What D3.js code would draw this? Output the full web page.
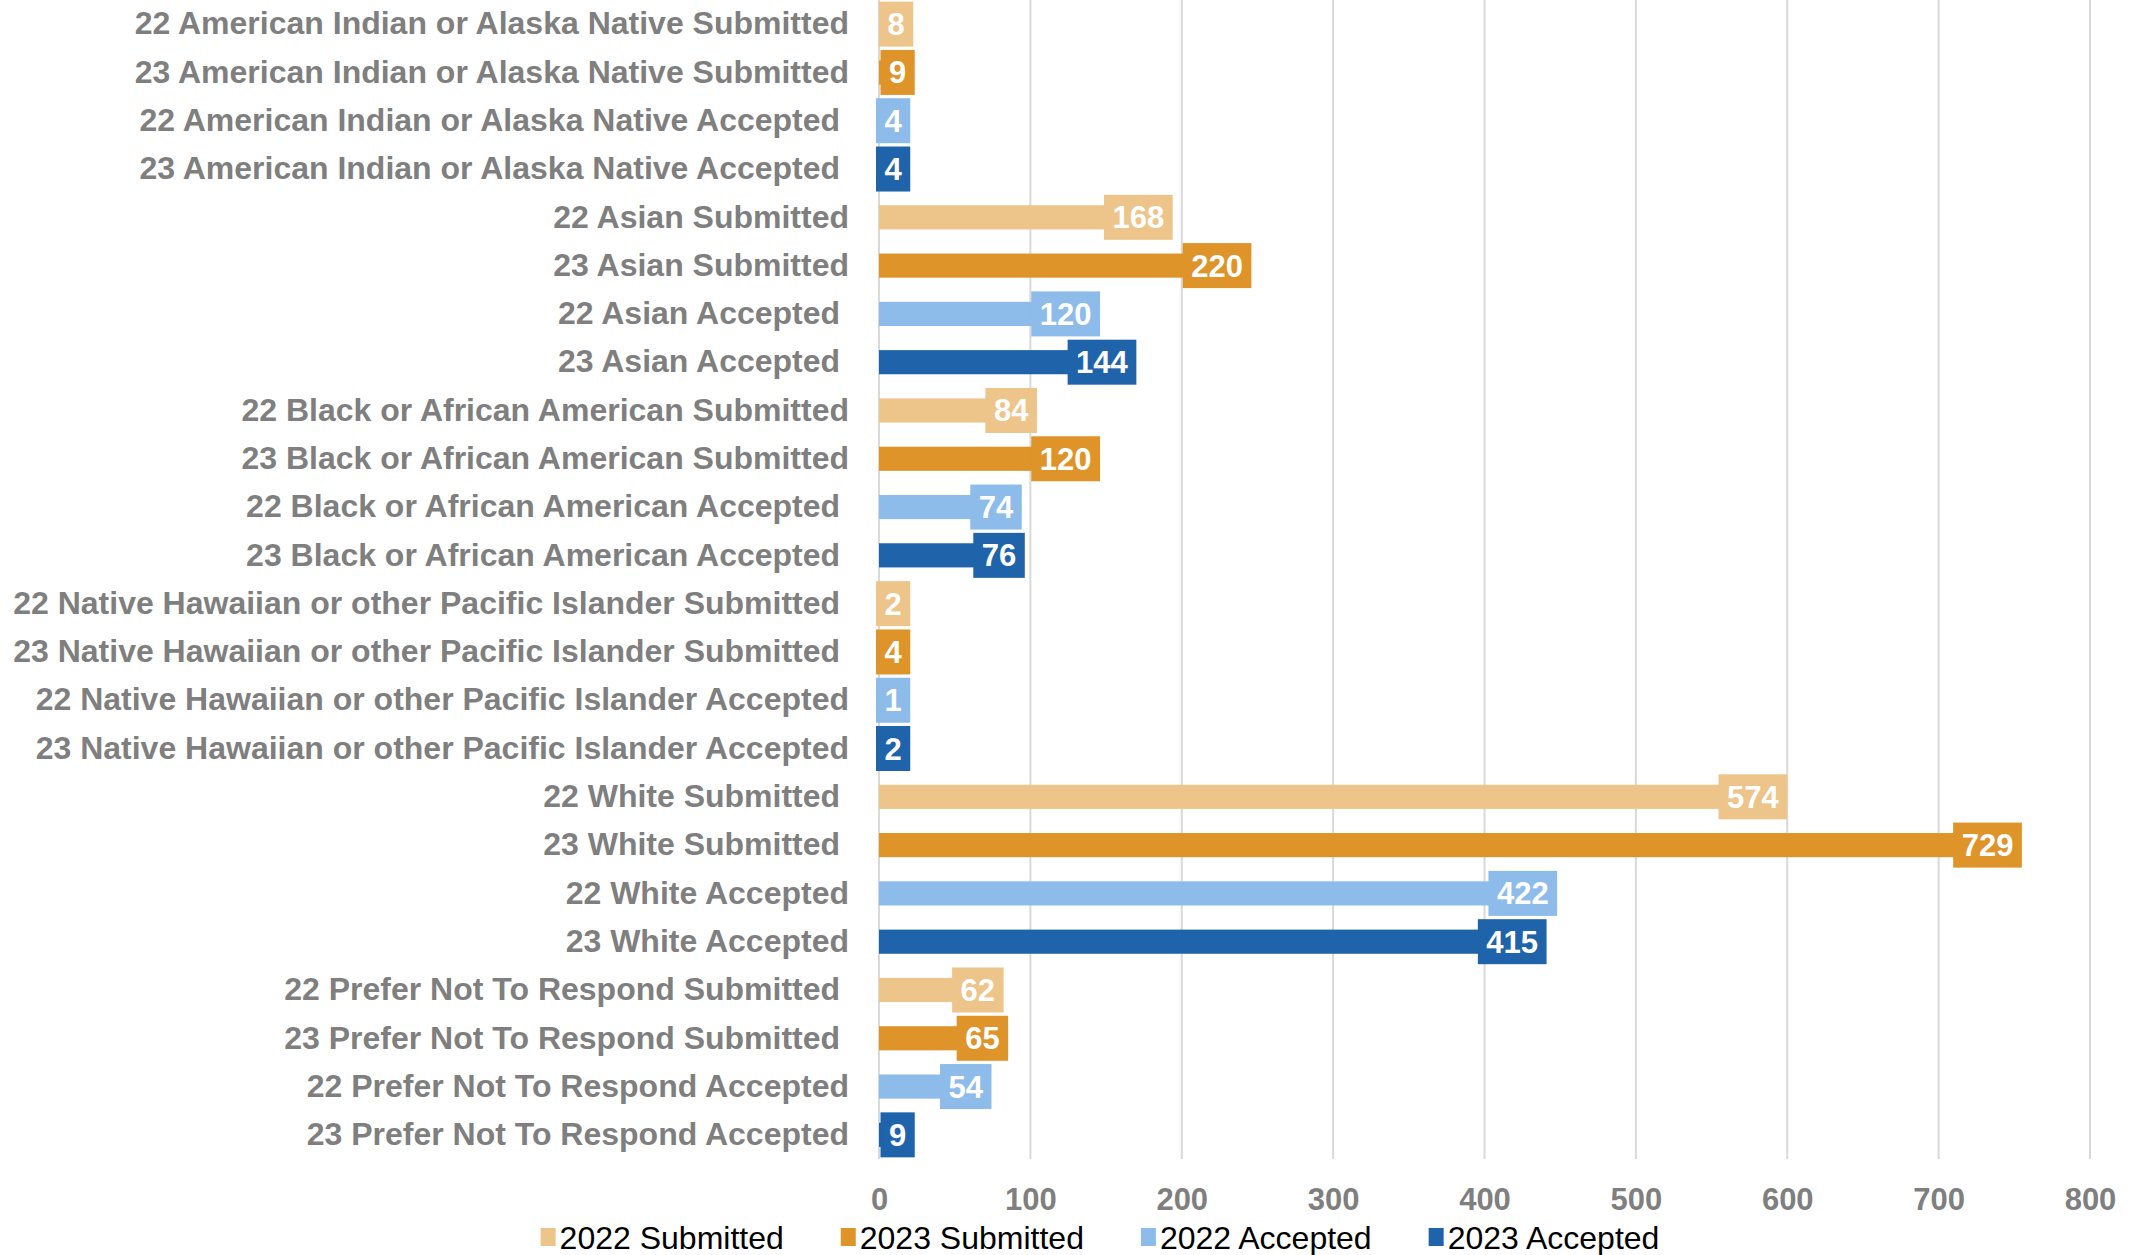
<!DOCTYPE html>
<html>
<head>
<meta charset="utf-8">
<script src="https://cdn.jsdelivr.net/npm/d3@7"></script>
<style>
  body { margin: 0; background: #fff; }
  svg { display: block; font-family: "Liberation Sans", Arial, sans-serif; }
</style>
</head>
<body>
<div id="chart"></div>
<script>
const width = 2141;
const height = 1255;

// Category labels (some carry a trailing space, as in the source sheet)
const categories = [
  '22 American Indian or Alaska Native Submitted',
  '23 American Indian or Alaska Native Submitted',
  '22 American Indian or Alaska Native Accepted ',
  '23 American Indian or Alaska Native Accepted ',
  '22 Asian Submitted',
  '23 Asian Submitted',
  '22 Asian Accepted ',
  '23 Asian Accepted ',
  '22 Black or African American Submitted',
  '23 Black or African American Submitted',
  '22 Black or African American Accepted ',
  '23 Black or African American Accepted ',
  '22 Native Hawaiian or other Pacific Islander Submitted ',
  '23 Native Hawaiian or other Pacific Islander Submitted ',
  '22 Native Hawaiian or other Pacific Islander Accepted',
  '23 Native Hawaiian or other Pacific Islander Accepted',
  '22 White Submitted ',
  '23 White Submitted ',
  '22 White Accepted',
  '23 White Accepted',
  '22 Prefer Not To Respond Submitted ',
  '23 Prefer Not To Respond Submitted ',
  '22 Prefer Not To Respond Accepted',
  '23 Prefer Not To Respond Accepted'
];
const values = [8, 9, 4, 4, 168, 220, 120, 144, 84, 120, 74, 76, 2, 4, 1, 2, 574, 729, 422, 415, 62, 65, 54, 9];
// which series each row belongs to
const seriesOf = [0, 1, 2, 3, 0, 1, 2, 3, 0, 1, 2, 3, 0, 1, 2, 3, 0, 1, 2, 3, 0, 1, 2, 3];
const seriesNames = ['2022 Submitted', '2023 Submitted', '2022 Accepted', '2023 Accepted'];
const xTicks = [0, 100, 200, 300, 400, 500, 600, 700, 800];

const colors = ['#EDC48A', '#DE9428', '#8DBCEB', '#1F63AA'];
const gray = '#7f7f7f';
const fontSize = 31;

const svg = d3.select('#chart')
  .append('svg')
  .attr('width', width)
  .attr('height', height);

// Scales
const xScale = d3.scaleLinear()
  .domain([0, 800])
  .range([879, 2090]);
const yScale = d3.scaleBand()
  .domain(d3.range(categories.length))
  .range([0, 1159])
  .paddingInner(0.5)
  .paddingOuter(0.25);

// Gridlines
svg.append('g')
  .selectAll('line')
  .data(xTicks)
  .join('line')
  .attr('x1', d => xScale(d))
  .attr('x2', d => xScale(d))
  .attr('y1', 0)
  .attr('y2', 1159)
  .attr('stroke', '#d9d9d9')
  .attr('stroke-width', 2);

// X axis labels
const xAxis = d3.axisBottom(xScale).tickValues(xTicks).tickSize(0).tickPadding(0);
const gx = svg.append('g')
  .attr('transform', 'translate(0, 1188)')
  .call(xAxis);
gx.select('.domain').remove();
gx.selectAll('text')
  .attr('font-family', '"Liberation Sans", Arial, sans-serif')
  .attr('font-size', fontSize)
  .attr('font-weight', 'bold')
  .attr('fill', gray);

// Y axis labels
const yAxis = d3.axisLeft(yScale).tickFormat(i => categories[i]).tickSize(0).tickPadding(30);
const gy = svg.append('g')
  .attr('transform', `translate(${xScale(0)}, 0)`)
  .call(yAxis);
gy.select('.domain').remove();
gy.selectAll('text')
  .attr('font-family', '"Liberation Sans", Arial, sans-serif')
  .attr('font-size', 32)
  .attr('font-weight', 'bold')
  .attr('fill', gray)
  .style('white-space', 'pre');

// Bars
svg.append('g')
  .selectAll('rect')
  .data(values)
  .join('rect')
  .attr('x', xScale(0))
  .attr('y', (d, i) => yScale(i))
  .attr('width', d => xScale(d) - xScale(0))
  .attr('height', yScale.bandwidth())
  .attr('fill', (d, i) => colors[seriesOf[i]]);

// Data labels in filled boxes near the bar end
const labels = svg.append('g')
  .selectAll('g')
  .data(values)
  .join('g');
labels.each(function (d, i) {
  const g = d3.select(this);
  const cy = yScale(i) + yScale.bandwidth() / 2;
  const box = g.append('rect');
  const t = g.append('text')
    .text(d)
    .attr('font-size', fontSize)
    .attr('font-weight', 'bold')
    .attr('fill', '#fff')
    .attr('text-anchor', 'middle');
  const w = t.node().getComputedTextLength() + 17;
  const left = Math.max(xScale(d) + 5 - w / 2, xScale(0) - 3);
  box.attr('x', left)
    .attr('y', cy - 22.5)
    .attr('width', w)
    .attr('height', 45)
    .attr('fill', colors[seriesOf[i]]);
  t.attr('x', left + w / 2)
    .attr('y', cy + 11);
});

// Legend
const legend = svg.append('g');
let lx = 0;
seriesNames.forEach((name, i) => {
  const item = legend.append('g').attr('transform', `translate(${lx}, 0)`);
  item.append('rect')
    .attr('x', 0)
    .attr('y', -21)
    .attr('width', 15)
    .attr('height', 18)
    .attr('fill', colors[i]);
  const t = item.append('text')
    .attr('x', 19)
    .attr('y', 0)
    .attr('font-size', 32)
    .attr('fill', '#000')
    .text(name);
  lx += 19 + t.node().getComputedTextLength() + 57;
});
const legendWidth = lx - 57;
legend.attr('transform', `translate(${1100 - legendWidth / 2}, 1249)`);
</script>
</body>
</html>
